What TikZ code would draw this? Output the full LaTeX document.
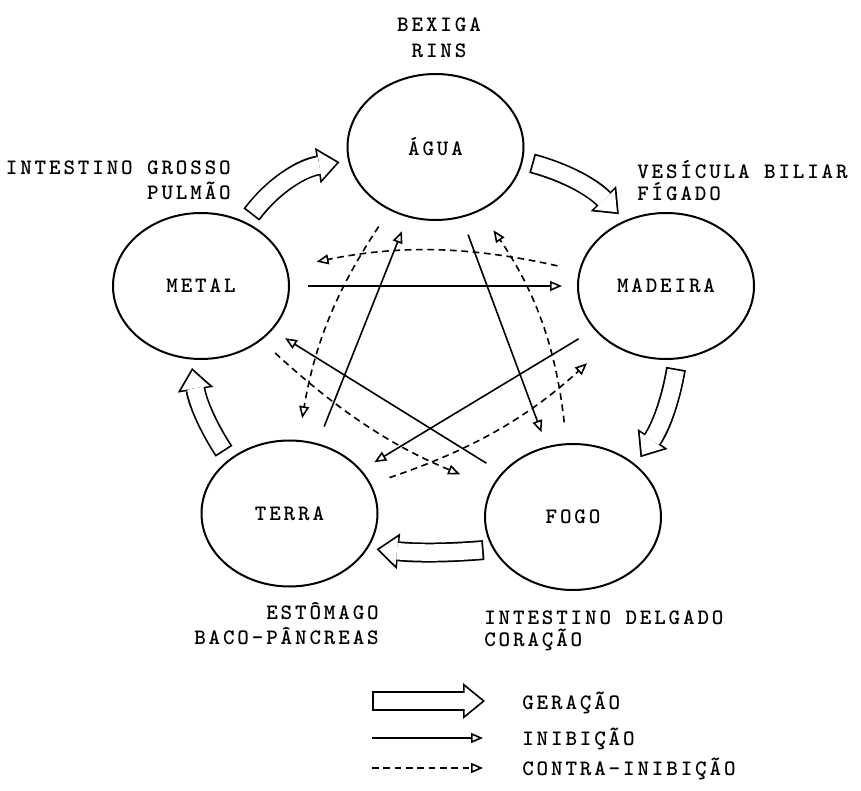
\documentclass[tikz,border=0pt]{standalone}
\usepackage{fontspec}
\newfontfamily\typer[LetterSpace=13]{lmmonolt10-bold.otf}
\usetikzlibrary{arrows.meta,shapes.geometric}

\tikzset{
  elem/.style={ellipse,draw,line width=1.5pt,minimum width=132pt,minimum height=109.5pt,
    inner sep=0pt,font=\typer\fontsize{16.5pt}{18pt}\selectfont},
  tag/.style={inner sep=0pt,font=\typer\fontsize{16.5pt}{18pt}\selectfont},
  genout/.style={line width=15pt,-{Triangle[length=16.5pt,width=27pt,line width=0pt]}},
  genin/.style={white,line width=12.4pt,-{Triangle[length=13.2pt,width=21.6pt,line width=0pt]}},
  inib/.style={line width=1.2pt,-{Triangle[open,length=9pt,width=7.5pt]}},
  inibline/.style={inib,shorten <=13.5pt,shorten >=11.25pt},
  contra/.style={inib,dash pattern=on 5pt off 3.5pt},
}
\newcommand\geracao[3]{%
  \draw[genout,shorten <=7pt,shorten >=6.5pt] (#1) to[#3] (#2);
  \draw[genin,shorten <=8.3pt,shorten >=8.6pt] (#1) to[#3] (#2);}

\begin{document}
\begin{tikzpicture}[x=0.75pt,y=-0.75pt]
    \useasboundingbox (0,0) rectangle (861,791);
    % elementos
    \node[elem] (agua) at (435.5,147) {ÁGUA};
    \node[elem] (metal) at (201,286) {METAL};
    \node[elem] (madeira) at (666,286) {MADEIRA};
    \node[elem] (terra) at (289.5,513.5) {TERRA};
    \node[elem] (fogo) at (573,517) {FOGO};
    % orgaos
    \node[tag,anchor=base] (bexiga) at (439,32) {BEXIGA};
    \node[tag,anchor=base] (rins) at (439,57.5) {RINS};
    \node[tag,anchor=base east] (grosso) at (231,175) {INTESTINO GROSSO};
    \node[tag,anchor=base east] (pulmao) at (231,200) {PULMÃO};
    \node[tag,anchor=base west] (vesicula) at (637,179) {VESÍCULA BILIAR};
    \node[tag,anchor=base west] (figado) at (637,201) {FÍGADO};
    \node[tag,anchor=base east] (estomago) at (379,619) {ESTÔMAGO};
    \node[tag,anchor=base east] (baco) at (379,644) {BACO-PÂNCREAS};
    \node[tag,anchor=base west] (delgado) at (484,624) {INTESTINO DELGADO};
    \node[tag,anchor=base west] (coracao) at (484,647) {CORAÇÃO};
    % geracao
    \geracao{metal.55}{agua.189}{bend left=22}
    \geracao{agua.351}{madeira.122}{bend left=15}
    \geracao{madeira.279}{fogo.40}{bend left=12}
    \geracao{fogo.202}{terra.336}{bend left=5}
    \geracao{terra.138}{metal.262}{bend left=12}
    % inibicao
    \draw[inibline] (metal) -- (madeira);
    \draw[inibline] (madeira) -- (terra);
    \draw[inibline] (terra) -- (agua);
    \draw[inibline] (agua) -- (fogo);
    \draw[inibline] (fogo) -- (metal);
    % contra-inibicao
    \draw[contra,shorten <=16.5pt,shorten >=22.5pt] (madeira.170) to[bend right=12] (metal.12);
    \draw[contra,shorten <=14.6pt,shorten >=16.5pt] (agua.234) to[bend right=12] (terra.83);
    \draw[contra,shorten <=14pt,shorten >=25.5pt] (metal.318) to[bend right=10] (fogo.160);
    \draw[contra,shorten <=14.6pt,shorten >=22.5pt] (terra.20) to[bend right=12] (madeira.225);
    \draw[contra,shorten <=15.75pt,shorten >=17.6pt] (fogo.95) to[bend right=14] (agua.305);
    % legenda
    \coordinate (g1) at (372,701);
    \coordinate (g2) at (485,701);
    \draw[genout] (g1) -- (g2);
    \draw[genin,shorten <=1.3pt,shorten >=2.1pt] (g1) -- (g2);
    \coordinate (i1) at (372,738);
    \coordinate (i2) at (483,738);
    \draw[inib] (i1) -- (i2);
    \coordinate (c1) at (372,768);
    \coordinate (c2) at (483,768);
    \draw[contra] (c1) -- (c2);
    \node[tag,anchor=base west] (lgen) at (522,709) {GERAÇÃO};
    \node[tag,anchor=base west] (linib) at (522,745) {INIBIÇÃO};
    \node[tag,anchor=base west] (lcontra) at (522,775.5) {CONTRA-INIBIÇÃO};
\end{tikzpicture}
\end{document}
